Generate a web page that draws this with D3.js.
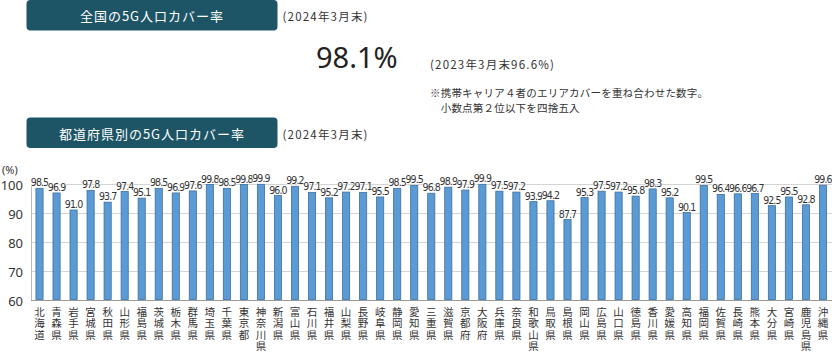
<!DOCTYPE html>
<html><head><meta charset="utf-8">
<script src="https://cdn.jsdelivr.net/npm/d3@7/dist/d3.min.js"></script>
<style>
body{margin:0;background:#fff;}
svg{display:block;}
</style></head>
<body>
<svg id="c" width="832" height="355"></svg>
<script>
const prefectures = ["北海道","青森県","岩手県","宮城県","秋田県","山形県","福島県","茨城県","栃木県","群馬県","埼玉県","千葉県","東京都","神奈川県","新潟県","富山県","石川県","福井県","山梨県","長野県","岐阜県","静岡県","愛知県","三重県","滋賀県","京都府","大阪府","兵庫県","奈良県","和歌山県","鳥取県","島根県","岡山県","広島県","山口県","徳島県","香川県","愛媛県","高知県","福岡県","佐賀県","長崎県","熊本県","大分県","宮崎県","鹿児島県","沖縄県"];
const coverage = [98.5,96.9,91.0,97.8,93.7,97.4,95.1,98.5,96.9,97.6,99.8,98.5,99.8,99.9,96.0,99.2,97.1,95.2,97.2,97.1,95.5,98.5,99.5,96.8,98.9,97.9,99.9,97.5,97.2,93.9,94.2,87.7,95.3,97.5,97.2,95.8,98.3,95.2,90.1,99.5,96.4,96.6,96.7,92.5,95.5,92.8,99.6];
const yTicks = [60,70,80,90,100];
const nationalValue = "98.1%";
const title1 = "全国の5G人口カバー率";
const title2 = "都道府県別の5G人口カバー率";
const dateNote = "(2024年3月末)";
const prevNote = "(2023年3月末96.6%)";
const noteLines = ["※携帯キャリア４者のエリアカバーを重ね合わせた数字。","　小数点第２位以下を四捨五入"];

const svg = d3.select("#c");
const jp = "'Noto Sans CJK JP','Noto Sans',sans-serif";

// header boxes
function header(y, text){
  svg.append("rect").attr("x",26.5).attr("y",y).attr("width",251).attr("height",30.5)
    .attr("rx",4).attr("fill","#1d5567");
  svg.append("text").attr("x",152).attr("y",y+15.5).attr("text-anchor","middle")
    .attr("dominant-baseline","central").attr("fill","#fff")
    .attr("font-family",jp).attr("font-size",13).attr("letter-spacing",1).text(text);
  svg.append("text").attr("x",282.5).attr("y",y+16).attr("dominant-baseline","central")
    .attr("fill","#333").attr("font-family",jp).attr("font-size",11.5)
    .attr("letter-spacing",1.2).text(dateNote);
}
header(0, title1);
header(117.5, title2);

svg.append("text").attr("x",316).attr("y",68).attr("fill","#222")
  .attr("font-family","'Noto Sans',sans-serif").attr("font-size",29).text(nationalValue);
svg.append("text").attr("x",430).attr("y",69).attr("fill","#333")
  .attr("font-family",jp).attr("font-size",11.5).attr("letter-spacing",1.2).text(prevNote);
noteLines.forEach((t,i)=>{
  svg.append("text").attr("x",430).attr("y",97+i*15).attr("fill","#333")
    .attr("font-family",jp).attr("font-size",10.5).attr("letter-spacing",0.2).text(t);
});

// chart
const x = d3.scaleBand().domain(prefectures).range([31,831.5]).paddingInner(0.58).paddingOuter(0.29);
const y = d3.scaleLinear().domain([60,100]).range([299.5,184]);

const g = svg.append("g");
// grid
g.selectAll("line.grid").data(yTicks).join("line")
  .attr("x1",31).attr("x2",832).attr("y1",d=>Math.round(y(d))+0.5).attr("y2",d=>Math.round(y(d))+0.5)
  .attr("stroke",d=>d===60?"#9a9a9a":"#d4d4d4").attr("stroke-width",1);
// y axis line
g.append("line").attr("x1",31.5).attr("x2",31.5).attr("y1",y(100)).attr("y2",y(60)+0.5).attr("stroke","#bbb");

// y tick labels
g.selectAll("text.yt").data(yTicks).join("text")
  .attr("x",23).attr("y",d=>y(d)+1).attr("text-anchor","end").attr("dominant-baseline","central")
  .attr("font-family","'Noto Sans',sans-serif").attr("font-size",13).attr("fill","#333").text(d=>d);
g.append("text").attr("x",2).attr("y",169).attr("dominant-baseline","central")
  .attr("font-family","'Noto Sans',sans-serif").attr("font-size",11).attr("fill","#333").text("(%)");

// bars
g.selectAll("rect.bar").data(prefectures).join("rect")
  .attr("x",(d)=>x(d)).attr("width",x.bandwidth())
  .attr("y",(d,i)=>y(coverage[i])).attr("height",(d,i)=>y(60)-y(coverage[i]))
  .attr("fill","#5b9bd5").attr("stroke","#3f6f9c").attr("stroke-width",0.8);

// value labels
g.selectAll("text.val").data(prefectures).join("text")
  .attr("x",d=>x(d)+x.bandwidth()/2).attr("y",(d,i)=>y(coverage[i])-2)
  .attr("text-anchor","middle")
  .attr("font-family","'Liberation Sans Narrow','DejaVu Sans Condensed',sans-serif")
  .attr("font-size",10.5).attr("letter-spacing",-0.9).attr("fill","#333")
  .attr("stroke","#fff").attr("stroke-width",1.2).attr("paint-order","stroke")
  .text((d,i)=>coverage[i].toFixed(1));

// vertical category labels
g.selectAll("text.cat").data(prefectures).join("text")
  .attr("x",d=>x(d)+x.bandwidth()/2).attr("y",307)
  .attr("writing-mode","vertical-rl")
  .style("text-orientation","upright")
  .attr("font-family",jp).attr("font-size",10.5).attr("letter-spacing",0.7)
  .attr("fill","#333").text(d=>d);
</script>
</body></html>
